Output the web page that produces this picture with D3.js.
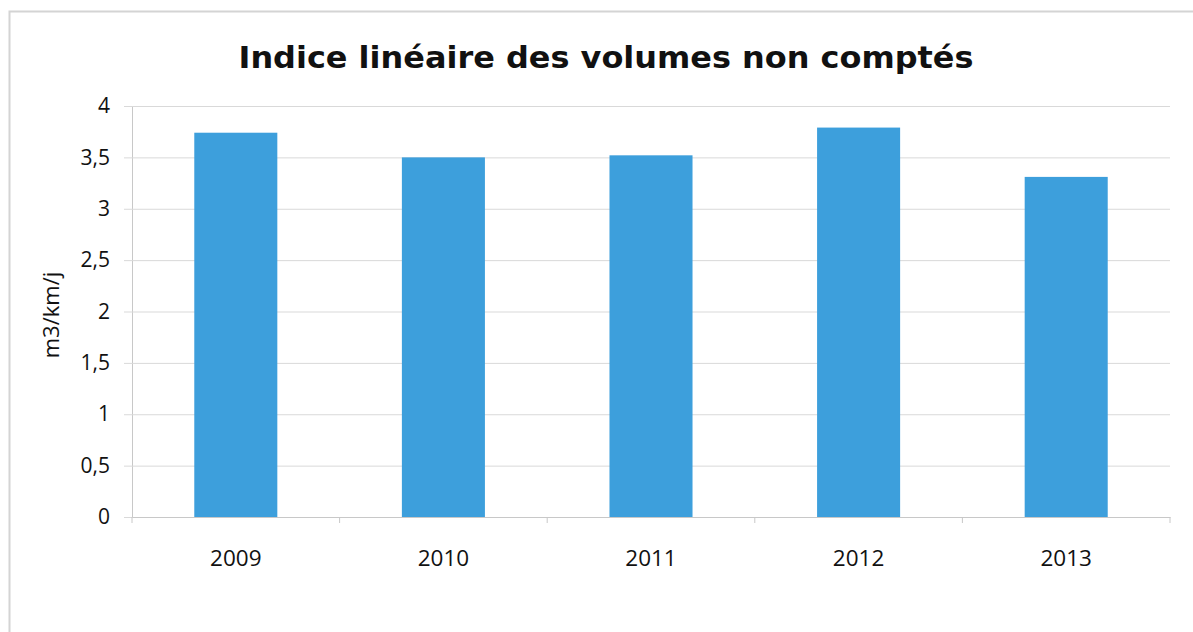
<!DOCTYPE html>
<html><head><meta charset="utf-8">
<script src="https://cdn.jsdelivr.net/npm/d3@7"></script>
<style>body{margin:0;background:#fff}</style>
</head><body>
<svg id="c" width="1193" height="632"></svg>
<script>
const categories = ["2009","2010","2011","2012","2013"];
const values = [3.74, 3.50, 3.52, 3.79, 3.31];
const yTicks = [0,0.5,1,1.5,2,2.5,3,3.5,4];
const yTickLabels = ["0","0,5","1","1,5","2","2,5","3","3,5","4"];
const title = "Indice linéaire des volumes non comptés";
const yTitle = "m3/km/j";

const svg = d3.select("#c");
const L = 132, R = 1170, T = 106, B = 517;
const x = d3.scaleBand().domain(categories).range([L,R]).paddingInner(0.6).paddingOuter(0.3);
const xb = d3.scaleBand().domain(categories).range([L,R]);
const y = d3.scaleLinear().domain([0,4]).range([B,T]);

// frame
svg.append("rect").attr("x",9.5).attr("y",11.5).attr("width",1200).attr("height",640)
  .attr("fill","none").attr("stroke","#d4d4d4").attr("stroke-width",2);

// gridlines
const yAxis = d3.axisLeft(y).tickValues(yTicks).tickSize(-(R-L)).tickPadding(22)
  .tickFormat((d,i)=>yTickLabels[i]);
const gy = svg.append("g").attr("transform",`translate(${L},0)`).call(yAxis);
gy.select(".domain").attr("stroke","#c8c8c8");
gy.selectAll(".tick line").attr("stroke","#d9d9d9").attr("x1",-8);
gy.selectAll(".tick text").attr("font-family","'Open Sans', sans-serif").attr("font-size",21).attr("fill","#111");

// bars
svg.append("g").selectAll("rect").data(categories).join("rect")
  .attr("x",d=>x(d)).attr("width",x.bandwidth())
  .attr("y",(d,i)=>y(values[i])).attr("height",(d,i)=>B-y(values[i]))
  .attr("fill","#3d9fdc");

// x axis
const xAxis = d3.axisBottom(xb).tickSize(0).tickPadding(33);
const gx = svg.append("g").attr("transform",`translate(0,${B})`).call(xAxis);
gx.select(".domain").attr("stroke","#c8c8c8");
gx.selectAll(".tick text").attr("font-family","'Open Sans', sans-serif").attr("font-size",22.5).attr("fill","#111");
// category boundary ticks
const bounds = categories.map(c=>xb(c)).concat([R]);
svg.append("g").selectAll("line").data(bounds).join("line")
  .attr("x1",d=>d).attr("x2",d=>d).attr("y1",B).attr("y2",B+6).attr("stroke","#c8c8c8");

// title
svg.append("text").attr("x",606).attr("y",68).attr("text-anchor","middle")
  .attr("font-family","'DejaVu Sans', Verdana, sans-serif").attr("font-weight","bold")
  .attr("font-size",30).attr("textLength",735).attr("lengthAdjust","spacingAndGlyphs")
  .attr("fill","#111").text(title);

// y title
svg.append("text").attr("transform","translate(59,315) rotate(-90)").attr("text-anchor","middle")
  .attr("font-family","'Open Sans', sans-serif").attr("font-size",22).attr("fill","#111").text(yTitle);
</script>
</body></html>
